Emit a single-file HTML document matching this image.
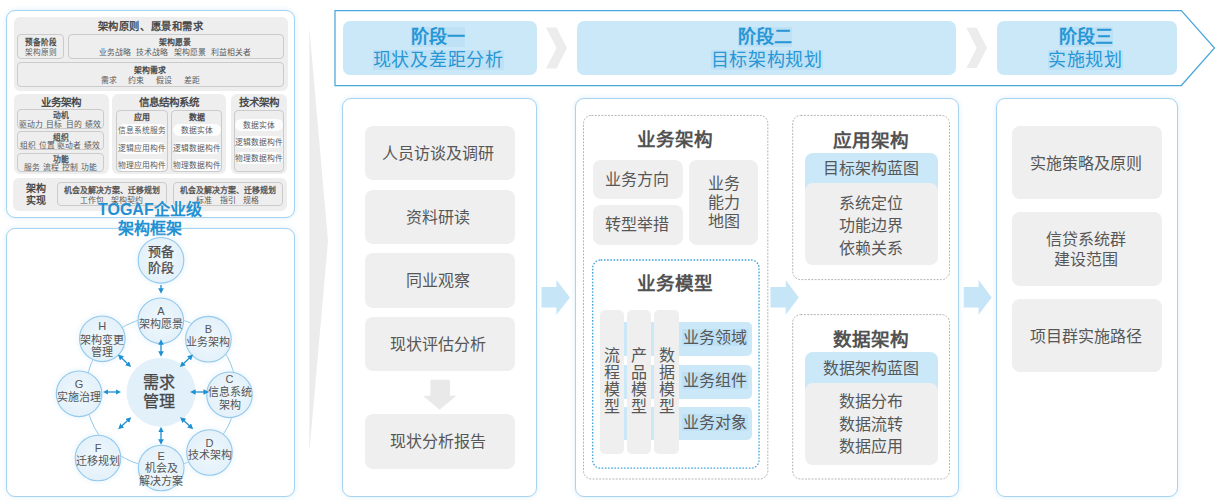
<!DOCTYPE html><html lang="zh-CN"><head><meta charset="utf-8"><style>
*{margin:0;padding:0;box-sizing:border-box}
html,body{width:1222px;height:504px;overflow:hidden;background:#fff}
body{position:relative;font-family:"Liberation Sans",sans-serif;color:#5a5a5a}
.a{position:absolute}
.t{position:absolute;text-align:center;white-space:nowrap}
.pnl{border:1px solid #a6d3ed;border-radius:9px;background:#fff;box-shadow:0 0 5px rgba(170,215,240,.45)}
.col{border:1px solid #a8d4ee;border-radius:9px;background:#fff;box-shadow:0 0 5px rgba(170,215,240,.45)}
.g{background:#eeeeee;border-radius:6px}
.sb{border:1px solid #cbcbcb;border-radius:4px}
.gb{background:#efefef;border-radius:8px}
.bb{background:#cbe8f8;border-radius:7px}
.pill{background:rgba(255,255,255,.85);border-radius:6px}
.hl{background:#bfe1f5}
svg{position:absolute;left:0;top:0}
</style></head><body>
<svg width="1222" height="504" viewBox="0 0 1222 504"><polygon points="309.30,27.00 328.00,241.00 309.30,453.00" fill="#ececec"/><polygon points="335.00,10.50 1181.30,10.50 1214.50,48.00 1181.30,85.50 335.00,85.50" fill="#fff" stroke="#4ba6da" stroke-width="1.25"/><polygon points="546.00,27.50 556.50,27.50 567.00,47.95 556.50,68.40 546.00,68.40 556.50,47.95" fill="#ececec"/><polygon points="966.40,27.80 976.70,27.80 987.00,47.90 976.70,68.00 966.40,68.00 976.70,47.90" fill="#ececec"/></svg>
<div class="a bb" style="left:343px;top:21px;width:194.00px;height:54.00px;"></div>
<div class="a bb" style="left:577px;top:21px;width:379.00px;height:54.00px;"></div>
<div class="a bb" style="left:997px;top:21px;width:180.00px;height:54.00px;"></div>
<div class="t" style="left:238.20px;top:25.50px;width:400px;height:22.00px;line-height:22.00px;font-size:18px;font-weight:bold;color:#2797d6;"><span class="hl">阶段一</span></div>
<div class="t" style="left:238.20px;top:49.10px;width:400px;height:22.00px;line-height:22.00px;font-size:18px;color:#2797d6;letter-spacing:0.7px"><span class="hl">现状及差距分析</span></div>
<div class="t" style="left:565.30px;top:25.50px;width:400px;height:22.00px;line-height:22.00px;font-size:18px;font-weight:bold;color:#2797d6;"><span class="hl">阶段二</span></div>
<div class="t" style="left:566.70px;top:49.10px;width:400px;height:22.00px;line-height:22.00px;font-size:18px;color:#2797d6;letter-spacing:0.7px"><span class="hl">目标架构规划</span></div>
<div class="t" style="left:885.50px;top:25.50px;width:400px;height:22.00px;line-height:22.00px;font-size:18px;font-weight:bold;color:#2797d6;"><span class="hl">阶段三</span></div>
<div class="t" style="left:885.50px;top:49.10px;width:400px;height:22.00px;line-height:22.00px;font-size:18px;color:#2797d6;letter-spacing:0.7px"><span class="hl">实施规划</span></div>
<div class="a pnl" style="left:6px;top:10px;width:289.00px;height:208.00px;"></div>
<div class="a pnl" style="left:6px;top:227.5px;width:289.00px;height:269.00px;"></div>
<div class="a g" style="left:13.5px;top:16.5px;width:274.00px;height:74.00px;"></div>
<div class="a g" style="left:13.6px;top:94px;width:95.00px;height:80.00px;"></div>
<div class="a g" style="left:112px;top:94px;width:114.00px;height:80.00px;"></div>
<div class="a g" style="left:230.6px;top:94px;width:56.40px;height:80.00px;"></div>
<div class="a g" style="left:13px;top:178px;width:274.00px;height:33.00px;"></div>
<div class="a sb" style="left:17px;top:34px;width:47.30px;height:25.00px;"></div>
<div class="a sb" style="left:67.8px;top:34px;width:215.80px;height:25.00px;"></div>
<div class="a sb" style="left:17px;top:62.3px;width:266.60px;height:24.70px;"></div>
<div class="a sb" style="left:17.3px;top:109.2px;width:87.20px;height:19.40px;"></div>
<div class="a sb" style="left:17.3px;top:131px;width:87.20px;height:19.00px;"></div>
<div class="a sb" style="left:17.3px;top:152.8px;width:87.20px;height:19.20px;"></div>
<div class="a sb" style="left:116.3px;top:109.5px;width:51.70px;height:62.80px;"></div>
<div class="a sb" style="left:171px;top:109.5px;width:51.40px;height:62.80px;"></div>
<div class="a sb" style="left:233.7px;top:109.5px;width:50.20px;height:62.50px;"></div>
<div class="a sb" style="left:56.5px;top:182.3px;width:110.40px;height:24.20px;"></div>
<div class="a sb" style="left:172.5px;top:182.3px;width:110.50px;height:24.20px;"></div>
<div class="a pill" style="left:117.8px;top:124px;width:48.20px;height:12.00px;"></div>
<div class="a pill" style="left:117.8px;top:142px;width:48.20px;height:12.00px;"></div>
<div class="a pill" style="left:117.8px;top:158.6px;width:48.20px;height:12.00px;"></div>
<div class="a pill" style="left:172.5px;top:124px;width:48.50px;height:12.00px;"></div>
<div class="a pill" style="left:172.5px;top:142px;width:48.50px;height:12.00px;"></div>
<div class="a pill" style="left:172.5px;top:158.6px;width:48.50px;height:12.00px;"></div>
<div class="a pill" style="left:234.8px;top:119.4px;width:47.80px;height:12.00px;"></div>
<div class="a pill" style="left:234.8px;top:135.8px;width:47.80px;height:12.00px;"></div>
<div class="a pill" style="left:234.8px;top:152px;width:47.80px;height:12.00px;"></div>
<div class="t" style="left:-49.40px;top:20.30px;width:400px;height:13.39px;line-height:13.39px;font-size:10.3px;font-weight:bold;letter-spacing:0.6px;color:#4a4a4a;">架构原则、愿景和需求</div>
<div class="t" style="left:-159.40px;top:38.06px;width:400px;height:9.88px;line-height:9.88px;font-size:7.6px;font-weight:bold;color:#4a4a4a;">预备阶段</div>
<div class="t" style="left:-159.40px;top:48.06px;width:400px;height:9.88px;line-height:9.88px;font-size:7.6px;">架构原则</div>
<div class="t" style="left:-25.20px;top:37.87px;width:400px;height:10.27px;line-height:10.27px;font-size:7.9px;font-weight:bold;color:#4a4a4a;">架构愿景</div>
<div class="t" style="left:-24.80px;top:48.16px;width:400px;height:10.27px;line-height:10.27px;font-size:7.9px;"><span>业务战略</span><span style="margin-left:5.5px">技术战略</span><span style="margin-left:5.5px">架构愿景</span><span style="margin-left:5.5px">利益相关者</span></div>
<div class="t" style="left:-49.60px;top:65.86px;width:400px;height:10.27px;line-height:10.27px;font-size:7.9px;font-weight:bold;color:#4a4a4a;">架构需求</div>
<div class="t" style="left:-49.80px;top:75.86px;width:400px;height:10.27px;line-height:10.27px;font-size:7.9px;"><span>需求</span><span style="margin-left:11.6px">约束</span><span style="margin-left:11.6px">假设</span><span style="margin-left:11.6px">差距</span></div>
<div class="t" style="left:-139.00px;top:95.88px;width:400px;height:13.65px;line-height:13.65px;font-size:10.5px;font-weight:bold;color:#4a4a4a;">业务架构</div>
<div class="t" style="left:-139.00px;top:111.33px;width:400px;height:10.14px;line-height:10.14px;font-size:7.8px;-webkit-text-stroke:0.3px #4f4f4f;color:#4f4f4f">动机</div>
<div class="t" style="left:-140.00px;top:119.93px;width:400px;height:10.14px;line-height:10.14px;font-size:7.8px;"><span>驱动力</span><span style="margin-left:3.2px">目标</span><span style="margin-left:3.2px">目的</span><span style="margin-left:3.2px">绩效</span></div>
<div class="t" style="left:-139.00px;top:132.83px;width:400px;height:10.14px;line-height:10.14px;font-size:7.8px;-webkit-text-stroke:0.3px #4f4f4f;color:#4f4f4f">组织</div>
<div class="t" style="left:-140.00px;top:141.43px;width:400px;height:10.14px;line-height:10.14px;font-size:7.8px;"><span>组织</span><span style="margin-left:2.6px">位置</span><span style="margin-left:2.6px">驱动者</span><span style="margin-left:2.6px">绩效</span></div>
<div class="t" style="left:-139.00px;top:154.53px;width:400px;height:10.14px;line-height:10.14px;font-size:7.8px;-webkit-text-stroke:0.3px #4f4f4f;color:#4f4f4f">功能</div>
<div class="t" style="left:-139.50px;top:163.13px;width:400px;height:10.14px;line-height:10.14px;font-size:7.8px;"><span>服务</span><span style="margin-left:3.2px">流程</span><span style="margin-left:3.2px">控制</span><span style="margin-left:3.2px">功能</span></div>
<div class="t" style="left:-31.00px;top:95.88px;width:400px;height:13.65px;line-height:13.65px;font-size:10.5px;font-weight:bold;color:#4a4a4a;">信息结构系统</div>
<div class="t" style="left:-58.00px;top:112.60px;width:400px;height:10.40px;line-height:10.40px;font-size:8px;font-weight:bold;color:#4a4a4a;">应用</div>
<div class="t" style="left:-3.30px;top:112.60px;width:400px;height:10.40px;line-height:10.40px;font-size:8px;font-weight:bold;color:#4a4a4a;">数据</div>
<div class="t" style="left:-58.00px;top:125.93px;width:400px;height:10.14px;line-height:10.14px;font-size:7.8px;">信息系统服务</div>
<div class="t" style="left:-58.00px;top:143.93px;width:400px;height:10.14px;line-height:10.14px;font-size:7.8px;">逻辑应用构件</div>
<div class="t" style="left:-58.00px;top:160.53px;width:400px;height:10.14px;line-height:10.14px;font-size:7.8px;">物理应用构件</div>
<div class="t" style="left:-3.30px;top:125.93px;width:400px;height:10.14px;line-height:10.14px;font-size:7.8px;">数据实体</div>
<div class="t" style="left:-3.30px;top:143.93px;width:400px;height:10.14px;line-height:10.14px;font-size:7.8px;">逻辑数据构件</div>
<div class="t" style="left:-3.30px;top:160.53px;width:400px;height:10.14px;line-height:10.14px;font-size:7.8px;">物理数据构件</div>
<div class="t" style="left:58.50px;top:95.88px;width:400px;height:13.65px;line-height:13.65px;font-size:10.5px;font-weight:bold;color:#4a4a4a;">技术架构</div>
<div class="t" style="left:58.70px;top:121.33px;width:400px;height:10.14px;line-height:10.14px;font-size:7.8px;">数据实体</div>
<div class="t" style="left:58.70px;top:137.73px;width:400px;height:10.14px;line-height:10.14px;font-size:7.8px;">逻辑数据构件</div>
<div class="t" style="left:58.70px;top:153.93px;width:400px;height:10.14px;line-height:10.14px;font-size:7.8px;">物理数据构件</div>
<div class="t" style="left:-163.70px;top:182.60px;width:400px;height:12.80px;line-height:12.80px;font-size:10px;font-weight:bold;color:#4a4a4a;">架构</div>
<div class="t" style="left:-163.70px;top:195.40px;width:400px;height:12.80px;line-height:12.80px;font-size:10px;font-weight:bold;color:#4a4a4a;">实现</div>
<div class="t" style="left:-88.30px;top:186.17px;width:400px;height:10.27px;line-height:10.27px;font-size:7.9px;-webkit-text-stroke:0.3px #4f4f4f;color:#4f4f4f">机会及解决方案、迁移规划</div>
<div class="t" style="left:-88.30px;top:195.87px;width:400px;height:10.27px;line-height:10.27px;font-size:7.9px;"><span>工作包</span><span style="margin-left:7.5px">架构契约</span></div>
<div class="t" style="left:27.75px;top:186.17px;width:400px;height:10.27px;line-height:10.27px;font-size:7.9px;-webkit-text-stroke:0.3px #4f4f4f;color:#4f4f4f">机会及解决方案、迁移规划</div>
<div class="t" style="left:27.75px;top:195.87px;width:400px;height:10.27px;line-height:10.27px;font-size:7.9px;"><span>标准</span><span style="margin-left:7.5px">指引</span><span style="margin-left:7.5px">规格</span></div>
<div class="t" style="left:-50.20px;top:199.70px;width:400px;height:20.80px;line-height:20.80px;font-size:16px;font-weight:bold;color:#2291d3">TOGAF企业级</div>
<div class="t" style="left:-50.00px;top:218.60px;width:400px;height:20.80px;line-height:20.80px;font-size:16px;font-weight:bold;color:#2291d3">架构框架</div>
<svg width="1222" height="504" viewBox="0 0 1222 504"><defs><marker id="ah" viewBox="0 0 10 10" refX="6" refY="5" markerWidth="4.3" markerHeight="4.3" orient="auto-start-reverse"><path d="M0,0 L10,5 L0,10 z" fill="#1f90d2"/></marker><radialGradient id="cg" cx="50%" cy="50%" r="50%"><stop offset="0%" stop-color="#eef7fc"/><stop offset="100%" stop-color="#e4f1fa"/></radialGradient><filter id="glow" x="-30%" y="-30%" width="160%" height="160%"><feGaussianBlur stdDeviation="2.5"/></filter></defs><circle cx="160.9" cy="392.1" r="75.3" fill="none" stroke="#8dc7ea" stroke-width="1"/><circle cx="161" cy="392.2" r="34.5" fill="#e2f0fa"/><circle cx="161" cy="260.3" r="25" fill="#d8ecf8" opacity=".45" filter="url(#glow)"/><circle cx="160.8" cy="320.8" r="25" fill="#d8ecf8" opacity=".45" filter="url(#glow)"/><circle cx="208.4" cy="339.2" r="25" fill="#d8ecf8" opacity=".45" filter="url(#glow)"/><circle cx="229.5" cy="394.8" r="25" fill="#d8ecf8" opacity=".45" filter="url(#glow)"/><circle cx="209.5" cy="452.5" r="25" fill="#d8ecf8" opacity=".45" filter="url(#glow)"/><circle cx="161.2" cy="468" r="25" fill="#d8ecf8" opacity=".45" filter="url(#glow)"/><circle cx="98" cy="458" r="25" fill="#d8ecf8" opacity=".45" filter="url(#glow)"/><circle cx="79.1" cy="393.8" r="25" fill="#d8ecf8" opacity=".45" filter="url(#glow)"/><circle cx="102.3" cy="338.8" r="25" fill="#d8ecf8" opacity=".45" filter="url(#glow)"/><circle cx="161" cy="260.3" r="22.8" fill="url(#cg)" stroke="#93c9eb" stroke-width="1.1"/><circle cx="160.8" cy="320.8" r="22.8" fill="url(#cg)" stroke="#93c9eb" stroke-width="1.1"/><circle cx="208.4" cy="339.2" r="22.8" fill="url(#cg)" stroke="#93c9eb" stroke-width="1.1"/><circle cx="229.5" cy="394.8" r="22.8" fill="url(#cg)" stroke="#93c9eb" stroke-width="1.1"/><circle cx="209.5" cy="452.5" r="22.8" fill="url(#cg)" stroke="#93c9eb" stroke-width="1.1"/><circle cx="161.2" cy="468" r="22.8" fill="url(#cg)" stroke="#93c9eb" stroke-width="1.1"/><circle cx="98" cy="458" r="22.8" fill="url(#cg)" stroke="#93c9eb" stroke-width="1.1"/><circle cx="79.1" cy="393.8" r="22.8" fill="url(#cg)" stroke="#93c9eb" stroke-width="1.1"/><circle cx="102.3" cy="338.8" r="22.8" fill="url(#cg)" stroke="#93c9eb" stroke-width="1.1"/><line x1="161" y1="341.5" x2="161" y2="354.5" stroke="#1f90d2" stroke-width="1.3" marker-end="url(#ah)" marker-start="url(#ah)"/><line x1="119.5" y1="356" x2="129.5" y2="365.5" stroke="#1f90d2" stroke-width="1.3" marker-end="url(#ah)" marker-start="url(#ah)"/><line x1="191.5" y1="356" x2="181.5" y2="365.5" stroke="#1f90d2" stroke-width="1.3" marker-end="url(#ah)" marker-start="url(#ah)"/><line x1="105" y1="392" x2="119" y2="392" stroke="#1f90d2" stroke-width="1.3" marker-end="url(#ah)" marker-start="url(#ah)"/><line x1="192.3" y1="392" x2="206.8" y2="392" stroke="#1f90d2" stroke-width="1.3" marker-end="url(#ah)" marker-start="url(#ah)"/><line x1="119.8" y1="427.7" x2="129.6" y2="418.7" stroke="#1f90d2" stroke-width="1.3" marker-end="url(#ah)" marker-start="url(#ah)"/><line x1="181.8" y1="418.7" x2="191.6" y2="427.7" stroke="#1f90d2" stroke-width="1.3" marker-end="url(#ah)" marker-start="url(#ah)"/><line x1="161" y1="429" x2="161" y2="442.5" stroke="#1f90d2" stroke-width="1.3" marker-end="url(#ah)" marker-start="url(#ah)"/><line x1="161" y1="285" x2="161" y2="291.5" stroke="#1f90d2" stroke-width="1.3" marker-end="url(#ah)" /></svg>
<div class="t" style="left:-39.40px;top:243.70px;width:400px;height:15.90px;line-height:15.90px;font-size:13px;color:#4a4a4a;-webkit-text-stroke:0.25px #4a4a4a">预备</div>
<div class="t" style="left:-39.40px;top:259.60px;width:400px;height:15.90px;line-height:15.90px;font-size:13px;color:#4a4a4a;-webkit-text-stroke:0.25px #4a4a4a">阶段</div>
<div class="t" style="left:-40.70px;top:373.20px;width:400px;height:19.00px;line-height:19.00px;font-size:16px;color:#474747;-webkit-text-stroke:0.3px #474747">需求</div>
<div class="t" style="left:-40.70px;top:392.20px;width:400px;height:19.00px;line-height:19.00px;font-size:16px;color:#474747;-webkit-text-stroke:0.3px #474747">管理</div>
<div class="t" style="left:-39.20px;top:305.00px;width:400px;height:13.00px;line-height:13.00px;font-size:11px;color:#555">A</div>
<div class="t" style="left:-39.20px;top:318.40px;width:400px;height:13.00px;line-height:13.00px;font-size:11px;color:#555">架构愿景</div>
<div class="t" style="left:8.40px;top:323.20px;width:400px;height:13.00px;line-height:13.00px;font-size:11px;color:#555">B</div>
<div class="t" style="left:8.40px;top:335.90px;width:400px;height:13.00px;line-height:13.00px;font-size:11px;color:#555">业务架构</div>
<div class="t" style="left:29.50px;top:373.40px;width:400px;height:13.00px;line-height:13.00px;font-size:11px;color:#555">C</div>
<div class="t" style="left:29.50px;top:386.40px;width:400px;height:13.00px;line-height:13.00px;font-size:11px;color:#555">信息系统</div>
<div class="t" style="left:29.50px;top:399.00px;width:400px;height:13.00px;line-height:13.00px;font-size:11px;color:#555">架构</div>
<div class="t" style="left:9.50px;top:436.50px;width:400px;height:13.00px;line-height:13.00px;font-size:11px;color:#555">D</div>
<div class="t" style="left:9.50px;top:448.60px;width:400px;height:13.00px;line-height:13.00px;font-size:11px;color:#555">技术架构</div>
<div class="t" style="left:-38.80px;top:450.00px;width:400px;height:13.00px;line-height:13.00px;font-size:11px;color:#555">E</div>
<div class="t" style="left:-38.80px;top:462.20px;width:400px;height:13.00px;line-height:13.00px;font-size:11px;color:#555">机会及</div>
<div class="t" style="left:-38.80px;top:474.50px;width:400px;height:13.00px;line-height:13.00px;font-size:11px;color:#555">解决方案</div>
<div class="t" style="left:-102.00px;top:441.80px;width:400px;height:13.00px;line-height:13.00px;font-size:11px;color:#555">F</div>
<div class="t" style="left:-102.00px;top:455.00px;width:400px;height:13.00px;line-height:13.00px;font-size:11px;color:#555">迁移规划</div>
<div class="t" style="left:-120.90px;top:378.20px;width:400px;height:13.00px;line-height:13.00px;font-size:11px;color:#555">G</div>
<div class="t" style="left:-120.90px;top:391.00px;width:400px;height:13.00px;line-height:13.00px;font-size:11px;color:#555">实施治理</div>
<div class="t" style="left:-97.70px;top:320.00px;width:400px;height:13.00px;line-height:13.00px;font-size:11px;color:#555">H</div>
<div class="t" style="left:-97.70px;top:333.50px;width:400px;height:13.00px;line-height:13.00px;font-size:11px;color:#555">架构变更</div>
<div class="t" style="left:-97.70px;top:345.70px;width:400px;height:13.00px;line-height:13.00px;font-size:11px;color:#555">管理</div>
<div class="a col" style="left:342.3px;top:98.3px;width:194.90px;height:398.50px;"></div>
<div class="a col" style="left:574.8px;top:98.3px;width:384.20px;height:398.50px;"></div>
<div class="a col" style="left:996.2px;top:98.3px;width:181.70px;height:398.50px;"></div>
<svg width="1222" height="504" viewBox="0 0 1222 504"><polygon points="541.50,287.00 556.40,287.00 556.40,280.00 570.00,297.40 556.40,314.80 556.40,307.60 541.50,307.60" fill="#c6e6f8"/><polygon points="770.50,287.00 785.70,287.00 785.70,280.00 798.80,297.40 785.70,314.80 785.70,307.60 770.50,307.60" fill="#c6e6f8"/><polygon points="963.70,287.00 978.60,287.00 978.60,280.00 991.70,297.40 978.60,314.80 978.60,307.60 963.70,307.60" fill="#c6e6f8"/><polygon points="430.40,379.70 450.00,379.70 450.00,395.70 456.50,395.70 439.50,409.80 423.00,395.70 430.40,395.70" fill="#e9e9e9"/><rect x="583.5" y="115.4" width="184.29999999999995" height="363.6" rx="8" fill="none" stroke="#b3b3b3" stroke-width="1" stroke-dasharray="1.9,1.4"/><rect x="792.7" y="115.4" width="156.79999999999995" height="164.20000000000002" rx="8" fill="none" stroke="#b3b3b3" stroke-width="1" stroke-dasharray="1.9,1.4"/><rect x="792.7" y="314.6" width="156.79999999999995" height="164.39999999999998" rx="8" fill="none" stroke="#b3b3b3" stroke-width="1" stroke-dasharray="1.9,1.4"/></svg>
<div class="a gb" style="left:364.6px;top:126px;width:150.40px;height:54.00px;"></div>
<div class="t" style="left:238.10px;top:143.90px;width:400px;height:20.80px;line-height:20.80px;font-size:16px;color:#575757;">人员访谈及调研</div>
<div class="a gb" style="left:364.6px;top:190px;width:150.40px;height:53.60px;"></div>
<div class="t" style="left:238.10px;top:207.70px;width:400px;height:20.80px;line-height:20.80px;font-size:16px;color:#575757;">资料研读</div>
<div class="a gb" style="left:364.6px;top:253px;width:150.40px;height:54.90px;"></div>
<div class="t" style="left:238.10px;top:271.35px;width:400px;height:20.80px;line-height:20.80px;font-size:16px;color:#575757;">同业观察</div>
<div class="a gb" style="left:364.6px;top:317.2px;width:150.40px;height:54.30px;"></div>
<div class="t" style="left:238.10px;top:335.25px;width:400px;height:20.80px;line-height:20.80px;font-size:16px;color:#575757;">现状评估分析</div>
<div class="a gb" style="left:364.6px;top:414px;width:150.40px;height:54.70px;"></div>
<div class="t" style="left:238.10px;top:432.25px;width:400px;height:20.80px;line-height:20.80px;font-size:16px;color:#575757;">现状分析报告</div>
<div class="a gb" style="left:1012px;top:126px;width:150.00px;height:73.00px;"></div>
<div class="t" style="left:886.00px;top:152.70px;width:400px;height:21.00px;line-height:21.00px;font-size:16px;color:#575757;">实施策略及原则</div>
<div class="a gb" style="left:1012px;top:212px;width:150.00px;height:73.50px;"></div>
<div class="t" style="left:886.00px;top:230.20px;width:400px;height:19.50px;line-height:19.50px;font-size:16px;color:#575757;">信贷系统群</div>
<div class="t" style="left:886.00px;top:249.70px;width:400px;height:19.50px;line-height:19.50px;font-size:16px;color:#575757;">建设范围</div>
<div class="a gb" style="left:1012px;top:298.5px;width:150.00px;height:73.50px;"></div>
<div class="t" style="left:886.00px;top:326.00px;width:400px;height:21.00px;line-height:21.00px;font-size:16px;color:#575757;">项目群实施路径</div>
<div class="t" style="left:475.20px;top:127.81px;width:400px;height:24.18px;line-height:24.18px;font-size:18.6px;font-weight:bold;color:#525252">业务架构</div>
<div class="a gb" style="left:593px;top:160px;width:90.00px;height:39.40px;"></div>
<div class="a gb" style="left:593px;top:205px;width:90.00px;height:40.00px;"></div>
<div class="a gb" style="left:689.4px;top:160px;width:68.90px;height:85.00px;"></div>
<div class="t" style="left:437.00px;top:170.00px;width:400px;height:20.80px;line-height:20.80px;font-size:16px;color:#575757;">业务方向</div>
<div class="t" style="left:437.00px;top:214.60px;width:400px;height:20.80px;line-height:20.80px;font-size:16px;color:#575757;">转型举措</div>
<div class="t" style="left:523.50px;top:174.40px;width:400px;height:19.00px;line-height:19.00px;font-size:16px;color:#575757;">业务</div>
<div class="t" style="left:523.50px;top:193.40px;width:400px;height:19.00px;line-height:19.00px;font-size:16px;color:#575757;">能力</div>
<div class="t" style="left:523.50px;top:212.40px;width:400px;height:19.00px;line-height:19.00px;font-size:16px;color:#575757;">地图</div>
<svg width="1222" height="504" viewBox="0 0 1222 504"><rect x="592.7" y="260" width="166.29999999999995" height="208.2" rx="8" fill="none" stroke="#3fa3da" stroke-width="1.3" stroke-dasharray="1.6,1.6"/></svg>
<div class="t" style="left:475.00px;top:272.21px;width:400px;height:24.18px;line-height:24.18px;font-size:18.6px;font-weight:bold;color:#525252">业务模型</div>
<div class="a bb" style="left:612px;top:322.2px;width:140.30px;height:33.70px;border-radius:5px"></div>
<div class="t" style="left:514.80px;top:328.20px;width:400px;height:20.80px;line-height:20.80px;font-size:16px;color:#575757;"><span class="hl" style="padding:0 1px">业务领域</span></div>
<div class="a bb" style="left:612px;top:365px;width:140.30px;height:33.60px;border-radius:5px"></div>
<div class="t" style="left:514.80px;top:371.20px;width:400px;height:20.80px;line-height:20.80px;font-size:16px;color:#575757;"><span class="hl" style="padding:0 1px">业务组件</span></div>
<div class="a bb" style="left:612px;top:407px;width:140.30px;height:33.40px;border-radius:5px"></div>
<div class="t" style="left:514.80px;top:413.40px;width:400px;height:20.80px;line-height:20.80px;font-size:16px;color:#575757;"><span class="hl" style="padding:0 1px">业务对象</span></div>
<div class="a gb" style="left:599.8px;top:309.5px;width:24.20px;height:144.50px;border-radius:5px"></div>
<div class="t" style="left:411.90px;top:348.00px;width:400px;height:16.90px;line-height:16.90px;font-size:16px;color:#575757;">流</div>
<div class="t" style="left:411.90px;top:364.90px;width:400px;height:16.90px;line-height:16.90px;font-size:16px;color:#575757;">程</div>
<div class="t" style="left:411.90px;top:381.80px;width:400px;height:16.90px;line-height:16.90px;font-size:16px;color:#575757;">模</div>
<div class="t" style="left:411.90px;top:398.70px;width:400px;height:16.90px;line-height:16.90px;font-size:16px;color:#575757;">型</div>
<div class="a gb" style="left:626.8px;top:309.5px;width:24.70px;height:144.50px;border-radius:5px"></div>
<div class="t" style="left:439.15px;top:348.00px;width:400px;height:16.90px;line-height:16.90px;font-size:16px;color:#575757;">产</div>
<div class="t" style="left:439.15px;top:364.90px;width:400px;height:16.90px;line-height:16.90px;font-size:16px;color:#575757;">品</div>
<div class="t" style="left:439.15px;top:381.80px;width:400px;height:16.90px;line-height:16.90px;font-size:16px;color:#575757;">模</div>
<div class="t" style="left:439.15px;top:398.70px;width:400px;height:16.90px;line-height:16.90px;font-size:16px;color:#575757;">型</div>
<div class="a gb" style="left:654px;top:309.5px;width:25.00px;height:144.50px;border-radius:5px"></div>
<div class="t" style="left:466.50px;top:348.00px;width:400px;height:16.90px;line-height:16.90px;font-size:16px;color:#575757;">数</div>
<div class="t" style="left:466.50px;top:364.90px;width:400px;height:16.90px;line-height:16.90px;font-size:16px;color:#575757;">据</div>
<div class="t" style="left:466.50px;top:381.80px;width:400px;height:16.90px;line-height:16.90px;font-size:16px;color:#575757;">模</div>
<div class="t" style="left:466.50px;top:398.70px;width:400px;height:16.90px;line-height:16.90px;font-size:16px;color:#575757;">型</div>
<div class="t" style="left:671.00px;top:128.51px;width:400px;height:24.18px;line-height:24.18px;font-size:18.6px;font-weight:bold;color:#525252">应用架构</div>
<div class="a bb" style="left:805px;top:152.8px;width:132.50px;height:47.20px;border-radius:8px"></div>
<div class="a gb" style="left:805px;top:183px;width:132.50px;height:81.60px;"></div>
<div class="t" style="left:671.00px;top:159.40px;width:400px;height:20.80px;line-height:20.80px;font-size:16px;color:#575757;">目标架构蓝图</div>
<div class="t" style="left:671.00px;top:192.60px;width:400px;height:22.80px;line-height:22.80px;font-size:16px;color:#575757;">系统定位</div>
<div class="t" style="left:671.00px;top:215.40px;width:400px;height:22.80px;line-height:22.80px;font-size:16px;color:#575757;">功能边界</div>
<div class="t" style="left:671.00px;top:238.20px;width:400px;height:22.80px;line-height:22.80px;font-size:16px;color:#575757;">依赖关系</div>
<div class="t" style="left:671.00px;top:327.81px;width:400px;height:24.18px;line-height:24.18px;font-size:18.6px;font-weight:bold;color:#525252">数据架构</div>
<div class="a bb" style="left:805px;top:351.9px;width:132.50px;height:48.10px;border-radius:8px"></div>
<div class="a gb" style="left:805px;top:382.6px;width:132.50px;height:82.40px;"></div>
<div class="t" style="left:671.00px;top:359.10px;width:400px;height:20.80px;line-height:20.80px;font-size:16px;color:#575757;">数据架构蓝图</div>
<div class="t" style="left:671.00px;top:390.80px;width:400px;height:22.80px;line-height:22.80px;font-size:16px;color:#575757;">数据分布</div>
<div class="t" style="left:671.00px;top:413.60px;width:400px;height:22.80px;line-height:22.80px;font-size:16px;color:#575757;">数据流转</div>
<div class="t" style="left:671.00px;top:436.40px;width:400px;height:22.80px;line-height:22.80px;font-size:16px;color:#575757;">数据应用</div>
</body></html>
